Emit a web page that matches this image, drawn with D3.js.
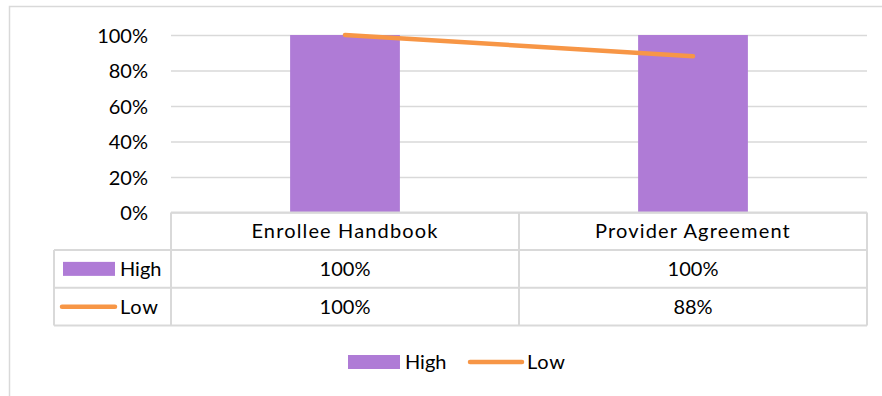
<!DOCTYPE html>
<html>
<head>
<meta charset="utf-8">
<script src="https://cdn.jsdelivr.net/npm/d3@7/dist/d3.min.js"></script>
<style>
  html, body { margin: 0; padding: 0; background: #fff; }
  svg { display: block; }
  text { font-family: Lato, "Open Sans", sans-serif; fill: #000; }
</style>
</head>
<body>
<svg id="chart" width="882" height="396"></svg>
<script>
// Chart data
const categories = ["Enrollee Handbook", "Provider Agreement"];
const seriesNames = ["High", "Low"];
const highValues = [1.00, 1.00];
const lowValues = [1.00, 0.88];
const yTickValues = [0, 0.2, 0.4, 0.6, 0.8, 1.0];

const barColor = "#AF7BD6";
const lineColor = "#F79646";
const gridColor = "#D9D9D9";
const fontSize = 20;

const svg = d3.select("#chart");

// Outer chart frame (extends past the right/bottom edge of the view)
svg.append("rect")
  .attr("x", 9.5).attr("y", 6.5)
  .attr("width", 900).attr("height", 420)
  .attr("fill", "#fff")
  .attr("stroke", gridColor).attr("stroke-width", 1.5);

// Plot area
const plot = { left: 171, right: 867, top: 35, bottom: 212.5 };

const x = d3.scaleBand()
  .domain(categories)
  .range([plot.left, plot.right])
  .padding(0);

const y = d3.scaleLinear()
  .domain([0, 1])
  .range([plot.bottom, plot.top]);

const gapWidth = 2.17; // bar gap as a fraction of bar width
const barW = x.bandwidth() / (1 + gapWidth);

// Gridlines
const grid = svg.append("g")
  .attr("transform", `translate(${plot.left},0)`)
  .call(d3.axisLeft(y).tickValues(yTickValues).tickSize(-(plot.right - plot.left)).tickFormat(""));
grid.select(".domain").remove();
grid.selectAll(".tick line").attr("stroke", gridColor).attr("stroke-width", 1.5);

// Y axis labels
const yAxis = svg.append("g")
  .attr("transform", `translate(148,0)`)
  .call(d3.axisLeft(y).tickValues(yTickValues).tickSize(0).tickPadding(0).tickFormat(d3.format(".0%")));
yAxis.select(".domain").remove();
yAxis.selectAll(".tick text")
  .attr("font-size", fontSize)
  .attr("font-family", "Lato, 'Open Sans', sans-serif")
  .attr("fill", "#000")
  .attr("dy", "0.36em");

// Bars (High)
svg.append("g").selectAll("rect")
  .data(categories)
  .join("rect")
  .attr("x", d => x(d) + (x.bandwidth() - barW) / 2)
  .attr("width", barW)
  .attr("y", (d, i) => y(highValues[i]))
  .attr("height", (d, i) => y(0) - y(highValues[i]))
  .attr("fill", barColor);

// Line (Low)
const line = d3.line()
  .x((d, i) => x(categories[i]) + x.bandwidth() / 2)
  .y(d => y(d));
svg.append("path")
  .datum(lowValues)
  .attr("d", line)
  .attr("fill", "none")
  .attr("stroke", lineColor)
  .attr("stroke-width", 4.5)
  .attr("stroke-linecap", "round");

// Data table below the plot
const table = { legendLeft: 54, headerBottom: 250, rowH: 37.75 };
const tableBottom = table.headerBottom + 2 * table.rowH;
const tg = svg.append("g").attr("stroke", gridColor).attr("stroke-width", 2).attr("fill", "none");

// horizontal lines
tg.append("line").attr("x1", plot.left).attr("x2", plot.right).attr("y1", plot.bottom).attr("y2", plot.bottom);
[table.headerBottom, table.headerBottom + table.rowH, tableBottom].forEach(yy => {
  tg.append("line").attr("x1", table.legendLeft).attr("x2", plot.right).attr("y1", yy).attr("y2", yy);
});
// vertical lines
tg.append("line").attr("x1", table.legendLeft).attr("x2", table.legendLeft).attr("y1", table.headerBottom).attr("y2", tableBottom);
[plot.left, plot.left + x.bandwidth(), plot.right].forEach(xx => {
  tg.append("line").attr("x1", xx).attr("x2", xx).attr("y1", plot.bottom).attr("y2", tableBottom);
});

const capOffset = fontSize * 0.36;

// header: category names
svg.append("g").selectAll("text")
  .data(categories)
  .join("text")
  .attr("x", d => x(d) + x.bandwidth() / 2)
  .attr("y", (plot.bottom + table.headerBottom) / 2 + capOffset)
  .attr("text-anchor", "middle")
  .attr("font-size", fontSize)
  .attr("letter-spacing", "1.15px")
  .text(d => d);

// value rows
const rows = [highValues, lowValues];
const fmt = d3.format(".0%");
rows.forEach((vals, r) => {
  const cy = table.headerBottom + table.rowH * (r + 0.5);
  svg.append("g").selectAll("text")
    .data(vals)
    .join("text")
    .attr("x", (d, i) => x(categories[i]) + x.bandwidth() / 2)
    .attr("y", cy + capOffset)
    .attr("text-anchor", "middle")
    .attr("font-size", fontSize)
    .text(d => fmt(d));

  // legend key in the row header
  if (r === 0) {
    svg.append("rect").attr("x", 63).attr("y", cy - 7).attr("width", 52).attr("height", 14).attr("fill", barColor);
  } else {
    svg.append("line").attr("x1", 62).attr("x2", 115).attr("y1", cy).attr("y2", cy)
      .attr("stroke", lineColor).attr("stroke-width", 4.5).attr("stroke-linecap", "round");
  }
  svg.append("text")
    .attr("x", 120).attr("y", cy + capOffset)
    .attr("font-size", fontSize)
    .attr("letter-spacing", r === 1 ? "0.8px" : null)
    .text(seriesNames[r]);
});

// Bottom legend
const legY = 362;
svg.append("rect").attr("x", 348).attr("y", legY - 7).attr("width", 52).attr("height", 14).attr("fill", barColor);
svg.append("text").attr("x", 405).attr("y", legY + capOffset).attr("font-size", fontSize).text(seriesNames[0]);
svg.append("line").attr("x1", 470).attr("x2", 522).attr("y1", legY).attr("y2", legY)
  .attr("stroke", lineColor).attr("stroke-width", 4.5).attr("stroke-linecap", "round");
svg.append("text").attr("x", 527).attr("y", legY + capOffset).attr("font-size", fontSize)
  .attr("letter-spacing", "0.8px").text(seriesNames[1]);
</script>
</body>
</html>
